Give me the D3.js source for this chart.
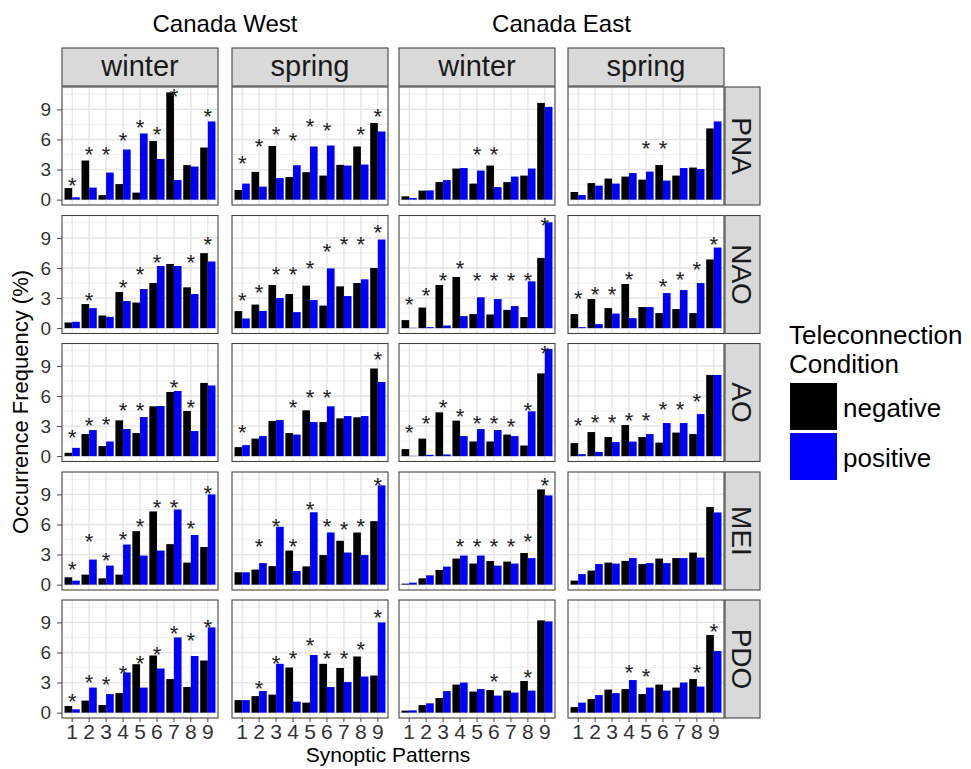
<!DOCTYPE html>
<html>
<head>
<meta charset="utf-8">
<script src="https://cdn.jsdelivr.net/npm/d3@7"></script>
<style>
body { margin: 0; background: #fff; }
text { font-family: "Liberation Sans", Arial, sans-serif; }
</style>
</head>
<body>
<script>
var patterns = [1, 2, 3, 4, 5, 6, 7, 8, 9];
var indices = ["PNA", "NAO", "AO", "MEI", "PDO"];
var regions = ["Canada West", "Canada East"];
var seasons = ["winter", "spring"];
var conditions = ["negative", "positive"];
var yTicks = [0, 3, 6, 9];

// rows follow `indices`: PNA, NAO, AO, MEI, PDO ; values in %
var westWinterNeg = [
    [1.15, 3.9, 0.45, 1.55, 0.7, 5.85, 10.7, 3.45, 5.2],
    [0.56, 2.4, 1.26, 3.6, 2.55, 4.5, 6.4, 4.07, 7.48],
    [0.33, 2.2, 1.0, 3.57, 2.3, 4.97, 6.4, 4.5, 7.3],
    [0.73, 1.0, 0.63, 1.0, 5.33, 7.3, 4.04, 2.2, 3.75],
    [0.66, 1.2, 0.76, 1.95, 4.83, 5.7, 3.35, 2.55, 5.2]
];
var westWinterPos = [
    [0.23, 1.2, 2.7, 5.0, 6.6, 4.05, 1.95, 3.3, 7.8],
    [0.63, 2.0, 1.13, 2.7, 3.9, 6.2, 6.2, 3.4, 6.65],
    [0.83, 2.6, 1.46, 2.7, 3.9, 5.0, 6.5, 2.5, 7.05],
    [0.4, 2.5, 1.9, 4.0, 2.9, 3.4, 7.5, 4.95, 9.0],
    [0.33, 2.5, 1.85, 4.0, 2.5, 4.4, 7.5, 5.65, 8.5]
];
// height (in %) where the significance asterisk sits, null = none
var westWinterStar = [
    [1.9, 5.0, 5.0, 6.4, 7.75, 7.05, 10.85, null, 8.8],
    [null, 3.3, null, 4.6, 5.9, 7.05, null, 7.05, 8.9],
    [2.4, 3.6, 3.65, 5.05, 5.05, null, 7.4, 5.4, null],
    [2.0, 4.8, 2.9, 5.0, 6.35, 8.2, 8.2, 6.1, 9.65],
    [1.6, 3.5, 3.3, 4.4, 5.4, 6.35, 8.4, 7.7, 9.05]
];

var westSpringNeg = [
    [0.96, 2.77, 5.35, 2.25, 2.74, 2.4, 3.47, 5.3, 7.65],
    [1.7, 2.35, 4.3, 3.4, 4.24, 2.25, 4.17, 4.5, 6.0],
    [0.9, 1.75, 3.5, 2.3, 4.57, 3.4, 3.77, 3.87, 8.74],
    [1.23, 1.5, 1.85, 3.4, 1.82, 2.95, 4.37, 5.2, 6.33],
    [1.25, 1.65, 1.8, 4.5, 1.0, 4.87, 4.45, 5.6, 3.7]
];
var westSpringPos = [
    [1.6, 1.3, 2.15, 3.43, 5.3, 5.4, 3.4, 3.5, 6.8],
    [0.96, 1.72, 3.0, 1.6, 2.8, 5.96, 3.2, 4.87, 8.84],
    [1.1, 2.0, 3.6, 2.15, 3.4, 4.97, 4.0, 4.0, 7.4],
    [1.23, 2.15, 5.77, 1.36, 7.22, 5.2, 3.2, 2.95, 9.9],
    [1.25, 2.15, 4.87, 1.1, 5.75, 2.55, 3.05, 3.6, 9.0]
];
var westSpringStar = [
    [4.1, 5.8, 7.05, 6.4, 7.8, 7.4, null, 7.05, 8.8],
    [3.3, 4.05, 5.9, 5.9, 6.45, 8.2, 8.9, 8.9, 10.1],
    [2.9, null, null, 5.4, 6.35, 6.35, null, null, 10.15],
    [null, 4.35, 6.35, 4.35, 8.0, 6.35, 6.0, 6.35, 10.4],
    [null, 2.9, 5.4, 5.9, 7.2, 5.9, 5.9, 6.85, 10.05]
];

var eastWinterNeg = [
    [0.33, 0.9, 1.75, 3.1, 1.6, 3.4, 1.75, 2.4, 9.65],
    [0.8, 2.05, 4.3, 5.1, 1.4, 1.36, 1.82, 1.1, 7.0],
    [0.7, 1.75, 4.37, 3.54, 1.46, 1.46, 2.15, 1.06, 8.25],
    [0.1, 0.63, 1.46, 2.6, 2.1, 2.35, 2.3, 3.15, 9.5],
    [0.2, 0.75, 1.45, 2.8, 2.1, 2.25, 2.2, 3.15, 9.2]
];
var eastWinterPos = [
    [0.17, 0.92, 1.95, 3.15, 2.9, 1.25, 2.3, 3.1, 9.25],
    [0.03, 0.1, 0.26, 1.2, 3.08, 2.9, 2.2, 4.67, 10.56],
    [0.03, 0.13, 0.17, 2.0, 2.7, 2.6, 2.0, 4.47, 10.7],
    [0.2, 0.93, 1.8, 2.9, 2.9, 1.9, 2.1, 2.65, 8.9],
    [0.23, 0.93, 2.15, 3.0, 2.35, 1.7, 2.0, 2.2, 9.1]
];
var eastWinterStar = [
    [null, null, null, null, 5.0, 5.0, null, null, null],
    [2.9, 3.75, 5.3, 6.45, 5.3, 5.3, 5.3, 5.3, 10.75],
    [2.9, 3.75, 5.4, 4.45, 3.75, 3.75, 3.5, 5.05, 10.75],
    [null, null, null, 4.35, 4.35, 4.35, 4.35, 4.85, 10.4],
    [null, null, null, null, null, 3.6, null, 4.05, null]
];

var eastSpringNeg = [
    [0.76, 1.65, 2.1, 2.3, 2.0, 3.45, 2.4, 3.2, 7.1],
    [1.4, 2.9, 2.0, 4.4, 2.1, 1.5, 1.9, 1.5, 6.85],
    [1.3, 2.4, 1.9, 3.1, 1.9, 1.35, 2.35, 2.2, 8.1],
    [0.4, 1.4, 2.2, 2.37, 2.05, 2.6, 2.65, 3.2, 7.75],
    [0.55, 1.35, 2.3, 2.35, 1.85, 2.8, 2.5, 3.35, 7.75]
];
var eastSpringPos = [
    [0.46, 1.4, 1.6, 2.65, 2.8, 1.9, 3.15, 3.05, 7.8],
    [0.1, 0.4, 1.45, 1.0, 2.1, 3.5, 3.8, 4.5, 8.04],
    [0.2, 0.43, 1.4, 1.45, 2.2, 3.3, 3.3, 4.2, 8.1],
    [1.05, 2.05, 2.1, 2.65, 2.15, 2.15, 2.65, 2.7, 7.2],
    [1.0, 1.75, 1.95, 3.25, 2.5, 2.2, 3.0, 2.6, 6.15]
];
var eastSpringStar = [
    [null, null, null, null, 5.6, 5.6, null, null, null],
    [3.5, 3.85, 3.85, 5.4, null, 4.7, 5.4, 6.4, 8.9],
    [3.6, 3.9, 3.9, 4.1, 4.1, 5.2, 5.2, 6.0, null],
    [null, null, null, null, null, null, null, null, null],
    [null, null, null, 4.55, 4.15, null, null, 4.55, 8.6]
];

var columns = [
    {region: 0, season: 0, neg: westWinterNeg, pos: westWinterPos, star: westWinterStar},
    {region: 0, season: 1, neg: westSpringNeg, pos: westSpringPos, star: westSpringStar},
    {region: 1, season: 0, neg: eastWinterNeg, pos: eastWinterPos, star: eastWinterStar},
    {region: 1, season: 1, neg: eastSpringNeg, pos: eastSpringPos, star: eastSpringStar}
];

var colors = {negative: "#000000", positive: "#0000ff"};

var width = 971, height = 769;
var colLeft = [62, 232, 399, 568], panelW = 156;
var rowTop = [87, 215.5, 343.5, 472, 600], panelH = 118;
var stripTop = 48, stripH = 38;
var sideStripX = 725, sideStripW = 35;

var svg = d3.select("body").append("svg")
    .attr("width", width)
    .attr("height", height);

// shared scales (fixed facets), ggplot style 5% expansion
var yMax = d3.max(columns, function(c) {
    return d3.max(c.neg.concat(c.pos), function(row) { return d3.max(row); });
});
var y = d3.scaleLinear()
    .domain([-yMax * 0.05, yMax * 1.05])
    .range([panelH, 0]);

var x = d3.scaleBand()
    .domain(patterns)
    .range([0, panelW])
    .paddingInner(0.1)
    .paddingOuter(0.15);

var xc = d3.scaleBand()
    .domain(conditions)
    .range([0, x.bandwidth()]);

var minorTicks = [1.5, 4.5, 7.5, 10.5];
var starSize = 22;

columns.forEach(function(col, c) {
    indices.forEach(function(idx, r) {
        var g = svg.append("g")
            .attr("transform", "translate(" + colLeft[c] + "," + rowTop[r] + ")");

        g.append("rect")
            .attr("width", panelW).attr("height", panelH)
            .attr("fill", "#fff");

        g.selectAll("line.minor").data(minorTicks).enter().append("line")
            .attr("x1", 0).attr("x2", panelW)
            .attr("y1", function(d) { return y(d); })
            .attr("y2", function(d) { return y(d); })
            .attr("stroke", "#ececec").attr("stroke-width", 0.8);

        g.selectAll("line.hmajor").data(yTicks).enter().append("line")
            .attr("x1", 0).attr("x2", panelW)
            .attr("y1", function(d) { return y(d); })
            .attr("y2", function(d) { return y(d); })
            .attr("stroke", "#e3e3e3").attr("stroke-width", 1.3);

        g.selectAll("line.vmajor").data(patterns).enter().append("line")
            .attr("y1", 0).attr("y2", panelH)
            .attr("x1", function(d) { return x(d) + x.bandwidth() / 2; })
            .attr("x2", function(d) { return x(d) + x.bandwidth() / 2; })
            .attr("stroke", "#e3e3e3").attr("stroke-width", 1.3);

        var bars = [];
        patterns.forEach(function(p, i) {
            bars.push({p: p, cond: "negative", v: col.neg[r][i]});
            bars.push({p: p, cond: "positive", v: col.pos[r][i]});
        });

        g.selectAll("rect.bar").data(bars).enter().append("rect")
            .attr("class", "bar")
            .attr("x", function(d) { return x(d.p) + xc(d.cond); })
            .attr("width", xc.bandwidth())
            .attr("y", function(d) { return y(d.v); })
            .attr("height", function(d) { return y(0) - y(d.v); })
            .attr("fill", function(d) { return colors[d.cond]; });

        var stars = patterns.map(function(p, i) { return {p: p, v: col.star[r][i]}; })
            .filter(function(d) { return d.v !== null; });

        g.selectAll("text.star").data(stars).enter().append("text")
            .attr("x", function(d) { return x(d.p) + x.bandwidth() / 2; })
            .attr("y", function(d) { return y(d.v) + starSize * 0.58; })
            .attr("text-anchor", "middle")
            .attr("font-size", starSize)
            .attr("fill", "#222")
            .text("*");

        g.append("rect")
            .attr("width", panelW).attr("height", panelH)
            .attr("fill", "none")
            .attr("stroke", "#444").attr("stroke-width", 1.1);

        // y axis only on the first column
        if (c === 0) {
            var ya = g.append("g").call(d3.axisLeft(y).tickValues(yTicks).tickSize(5).tickPadding(6));
            ya.select(".domain").remove();
            ya.selectAll("line").attr("stroke", "#444");
            ya.selectAll("text").attr("font-size", 19).attr("fill", "#333")
                .attr("font-family", "Liberation Sans, Arial, sans-serif");
        }
        // x axis only on the bottom row
        if (r === indices.length - 1) {
            var xa = g.append("g")
                .attr("transform", "translate(0," + panelH + ")")
                .call(d3.axisBottom(x).tickSize(4).tickPadding(2));
            xa.select(".domain").remove();
            xa.selectAll("line").attr("stroke", "#444");
            xa.selectAll("text").attr("font-size", 21).attr("fill", "#333")
                .attr("font-family", "Liberation Sans, Arial, sans-serif");
        }
    });

    // season strip on top
    svg.append("rect")
        .attr("x", colLeft[c]).attr("y", stripTop)
        .attr("width", panelW).attr("height", stripH)
        .attr("fill", "#d9d9d9").attr("stroke", "#444").attr("stroke-width", 1.1);
    svg.append("text")
        .attr("x", colLeft[c] + panelW / 2)
        .attr("y", stripTop + stripH / 2 + 9)
        .attr("text-anchor", "middle")
        .attr("font-size", 29)
        .attr("fill", "#1a1a1a")
        .text(seasons[col.season]);
});

// index strips on the right
indices.forEach(function(idx, r) {
    svg.append("rect")
        .attr("x", sideStripX).attr("y", rowTop[r])
        .attr("width", sideStripW).attr("height", panelH)
        .attr("fill", "#d9d9d9").attr("stroke", "#444").attr("stroke-width", 1.1);
    svg.append("text")
        .attr("transform", "translate(" + (sideStripX + sideStripW / 2) + "," + (rowTop[r] + panelH / 2) + ") rotate(90)")
        .attr("text-anchor", "middle")
        .attr("dy", "0.36em")
        .attr("font-size", 28)
        .attr("fill", "#1a1a1a")
        .text(idx);
});

// region titles
regions.forEach(function(reg, i) {
    var cx = (colLeft[i * 2] + colLeft[i * 2 + 1] + panelW) / 2;
    svg.append("text")
        .attr("x", cx).attr("y", 32)
        .attr("text-anchor", "middle")
        .attr("font-size", 24)
        .attr("fill", "#000")
        .text(reg);
});

// axis titles
svg.append("text")
    .attr("transform", "translate(28,402) rotate(-90)")
    .attr("text-anchor", "middle")
    .attr("font-size", 22)
    .text("Occurrence Frequency (%)");

svg.append("text")
    .attr("x", 388).attr("y", 762)
    .attr("text-anchor", "middle")
    .attr("font-size", 21)
    .text("Synoptic Patterns");

// legend
var legend = svg.append("g").attr("transform", "translate(789,0)");
legend.append("text").attr("x", 0).attr("y", 344).attr("font-size", 26).text("Teleconnection");
legend.append("text").attr("x", 0).attr("y", 373).attr("font-size", 26).text("Condition");
conditions.forEach(function(cond, i) {
    legend.append("rect")
        .attr("x", 1).attr("y", 383 + i * 50)
        .attr("width", 47).attr("height", 47)
        .attr("fill", colors[cond]);
    legend.append("text")
        .attr("x", 54).attr("y", 417 + i * 50)
        .attr("font-size", 26)
        .text(cond);
});
</script>
</body>
</html>
